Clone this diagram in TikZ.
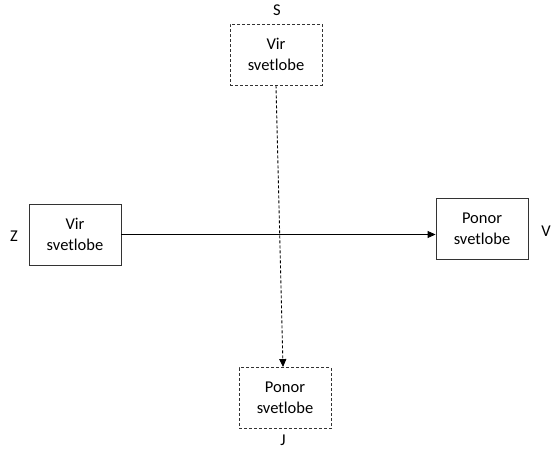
\documentclass[tikz,border=0pt]{standalone}
\usepackage{fontspec}
\setmainfont{Carlito}
\usetikzlibrary{arrows.meta}
\begin{document}
\begin{tikzpicture}[x=1pt,y=-1pt,
  box/.style={draw=black!80, line width=0.9pt, minimum width=92pt, minimum height=61pt, inner sep=0pt, align=center, font=\fontsize{16.5}{21}\selectfont},
  dbox/.style={box, dash pattern=on 3pt off 2pt},
  lbl/.style={font=\fontsize{16.5}{21}\selectfont, inner sep=0pt},
  conn/.style={draw=black, line width=0.9pt, -{Triangle[length=8pt,width=7pt]}}]
\useasboundingbox (0,0) rectangle (553,449);
\node[dbox] (S) at (276,54.5) {Vir\\svetlobe};
\node[box] (Z) at (75,234.5) {Vir\\svetlobe};
\node[box] (V) at (482,229) {Ponor\\svetlobe};
\node[dbox] (J) at (285,398) {Ponor\\svetlobe};
\node[lbl] (lS) at (277,10) {S};
\node[lbl] (lZ) at (14,236) {Z};
\node[lbl] (lV) at (546,231) {V};
\node[lbl] (lJ) at (283,440) {J};
\draw[conn] (Z.east) -- (Z.east -| V.west);
\draw[conn, dash pattern=on 3pt off 2pt] (S.south) -- ([xshift=-2pt]J.north);
\end{tikzpicture}
\end{document}
